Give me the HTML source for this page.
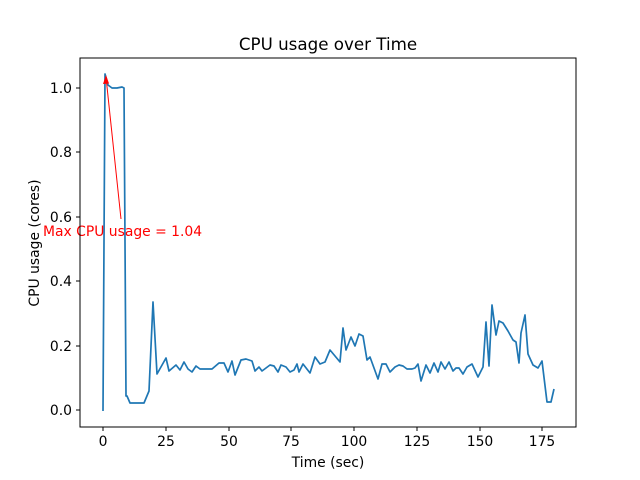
<!DOCTYPE html>
<html><head><style>body{margin:0;background:#fff}svg{display:block}text{font-family:"DejaVu Sans","Liberation Sans",sans-serif}</style></head><body>
<svg width="640" height="480" viewBox="0 0 640 480">
<rect width="640" height="480" fill="#fff"/>
<polyline fill="none" stroke="#1f77b4" stroke-width="1.7" stroke-linejoin="round" points="103,411 105,74 108,85 112,88 117,88 122,87 124,88 126,396 127,396 130,403 144,403 149,391 153,302 157,374 166,358 169,371 176,365 180,370 184,362 188,369 192,372 196,366 200,369 212,369 219,363 224,363 228,372 232,361 235,375 241,360 246,359 252,361 255,371 259,367 262,371 270,365 274,366 278,372 281,365 286,367 290,372 294,370 297,364 299,372 303,364 310,373 315,357 320,364 325,362 330,350 340,362 343,328 346,350 351,337 355,346 359,334 363,336 367,360 370,357 378,379 382,364 386,364 390,372 395,367 399,365 403,366 407,369 412,369 415,368 418,364 421,381 426,365 430,373 434,363 438,372 441,362 445,369 449,362 453,371 456,368 459,368 463,374 467,367 472,364 478,377 483,367 486,322 489,366 492,305 496,335 499,321 503,323 508,331 513,340 516,342 519,363 521,333 525,315 528,354 533,365 538,368 542,361 547,402 551,402 554,389"/>
<line x1="121" y1="219" x2="106.5" y2="82" stroke="red" stroke-width="1"/>
<polygon points="106,75 103,84 109,83.5" fill="red"/>
<text x="43" y="236" font-size="13.9" fill="red">Max CPU usage = 1.04</text>
<rect x="80" y="58" width="496" height="369" fill="none" stroke="#000" stroke-width="1"/>
<g stroke="#000">
<line x1="103" y1="427" x2="103" y2="431"/><line x1="166" y1="427" x2="166" y2="431"/><line x1="229" y1="427" x2="229" y2="431"/><line x1="291" y1="427" x2="291" y2="431"/><line x1="354" y1="427" x2="354" y2="431"/><line x1="417" y1="427" x2="417" y2="431"/><line x1="480" y1="427" x2="480" y2="431"/><line x1="542" y1="427" x2="542" y2="431"/>
<line x1="76" y1="410" x2="80" y2="410"/><line x1="76" y1="346" x2="80" y2="346"/><line x1="76" y1="281" x2="80" y2="281"/><line x1="76" y1="217" x2="80" y2="217"/><line x1="76" y1="152" x2="80" y2="152"/><line x1="76" y1="88" x2="80" y2="88"/>
</g>
<g font-size="13.9" text-anchor="middle" fill="#000">
<text x="103" y="446">0</text><text x="166" y="446">25</text><text x="229" y="446">50</text><text x="291" y="446">75</text><text x="354" y="446">100</text><text x="417" y="446">125</text><text x="480" y="446">150</text><text x="542" y="446">175</text>
</g>
<g font-size="13.9" text-anchor="end" fill="#000">
<text x="72" y="415">0.0</text><text x="72" y="351">0.2</text><text x="72" y="286">0.4</text><text x="72" y="222">0.6</text><text x="72" y="157">0.8</text><text x="72" y="93">1.0</text>
</g>
<text x="328" y="467" font-size="13.9" text-anchor="middle">Time (sec)</text>
<text transform="translate(39,243) rotate(-90)" font-size="13.9" text-anchor="middle">CPU usage (cores)</text>
<text x="328" y="50" font-size="16.7" text-anchor="middle">CPU usage over Time</text>
</svg>
</body></html>
